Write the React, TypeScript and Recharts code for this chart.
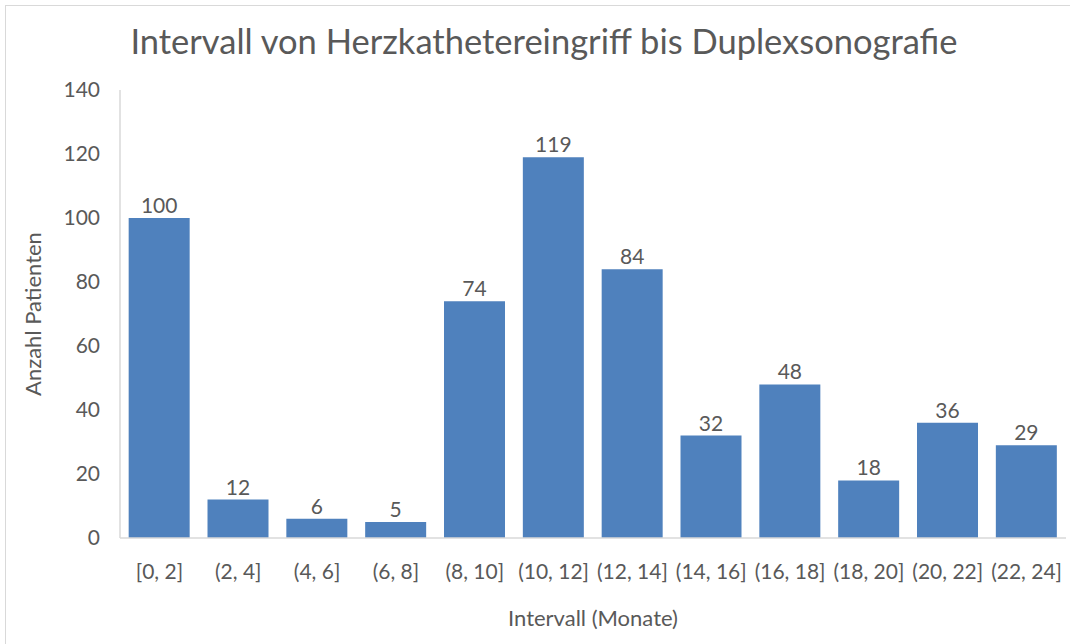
import { BarChart, Bar, XAxis, YAxis, LabelList, Label } from 'recharts'

const intervals = ['[0, 2]', '(2, 4]', '(4, 6]', '(6, 8]', '(8, 10]', '(10, 12]', '(12, 14]', '(14, 16]', '(16, 18]', '(18, 20]', '(20, 22]', '(22, 24]']
const patients = [100, 12, 6, 5, 74, 119, 84, 32, 48, 18, 36, 29]
const yTicks = [0, 20, 40, 60, 80, 100, 120, 140]

const data = intervals.map((name, i) => ({ name, count: patients[i] }))

const font = 'Lato, "Open Sans", sans-serif'
const textColor = '#595959'

export default function App() {
  return (
    <div
      style={{
        position: 'absolute',
        left: 0,
        top: 0,
        width: 1070,
        height: 644,
        background: '#fff',
        fontFamily: font,
      }}
    >
      <div
        style={{
          position: 'absolute',
          left: 5,
          top: 5,
          width: 1080,
          height: 660,
          border: '1.5px solid #d9d9d9',
        }}
      />
      <div
        style={{
          position: 'absolute',
          left: 0,
          top: 20,
          width: 1088,
          textAlign: 'center',
          fontSize: 34.5,
          color: textColor,
        }}
      >
        Intervall von Herzkathetereingriff bis Duplexsonografie
      </div>
      <div style={{ position: 'absolute', left: 0, top: 0 }}>
        <BarChart
          width={1070}
          height={644}
          data={data}
          margin={{ top: 90, right: 4, left: 0, bottom: 0 }}
          barCategoryGap="11%"
        >
          <XAxis
            dataKey="name"
            height={106}
            axisLine={{ stroke: '#d9d9d9', strokeWidth: 1.5 }}
            tickLine={false}
            tickMargin={20}
            interval={0}
            tick={{ fontSize: 21, fill: textColor, fontFamily: font }}
          >
            <Label
              value="Intervall (Monate)"
              position="insideBottom"
              offset={18}
              style={{ fontSize: 22, fill: textColor, fontFamily: font }}
            />
          </XAxis>
          <YAxis
            width={120}
            domain={[0, 140]}
            ticks={yTicks}
            axisLine={{ stroke: '#d9d9d9', strokeWidth: 1.5 }}
            tickLine={false}
            tickMargin={14}
            tick={{ fontSize: 21, fill: textColor, fontFamily: font }}
          >
            <Label
              value="Anzahl Patienten"
              angle={-90}
              position="insideLeft"
              offset={33}
              style={{ fontSize: 22, fill: textColor, fontFamily: font, textAnchor: 'middle' }}
            />
          </YAxis>
          <Bar dataKey="count" fill="#4f81bd" isAnimationActive={false}>
            <LabelList
              dataKey="count"
              position="top"
              offset={5}
              style={{ fontSize: 21, fill: textColor, fontFamily: font }}
            />
          </Bar>
        </BarChart>
      </div>
    </div>
  )
}
